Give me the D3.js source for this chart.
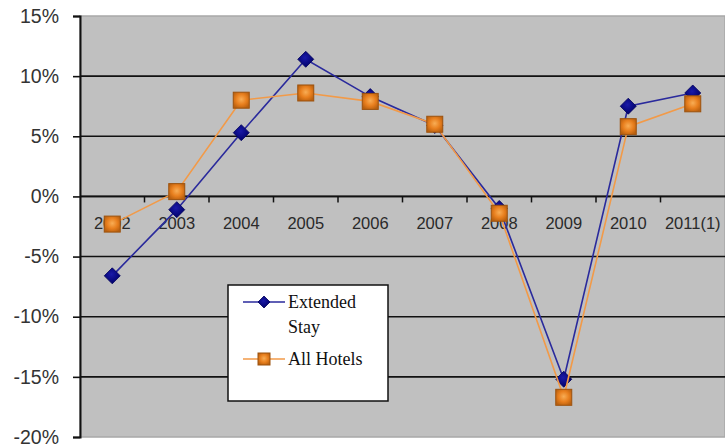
<!DOCTYPE html>
<html>
<head>
<meta charset="utf-8">
<script src="https://cdn.jsdelivr.net/npm/d3@7"></script>
<style>
  html, body { margin: 0; padding: 0; background: #fff; }
  svg { display: block; }
</style>
</head>
<body>
<svg id="chart" width="725" height="448"></svg>
<script>
// Annual RevPAR change, Extended Stay vs. all hotels
const years = ["2002", "2003", "2004", "2005", "2006", "2007", "2008", "2009", "2010", "2011(1)"];
const extendedStay = [-6.6, -1.1, 5.3, 11.4, 8.3, 5.9, -1.0, -15.2, 7.5, 8.6];
const allHotels = [-2.3, 0.4, 8.0, 8.6, 7.9, 6.0, -1.4, -16.7, 5.8, 7.7];
const yTicks = [15, 10, 5, 0, -5, -10, -15, -20];

const svg = d3.select("#chart");
const plot = { left: 80, right: 725, top: 16, bottom: 437 };

const x = d3.scaleBand().domain(years).range([plot.left, plot.right]);
const y = d3.scaleLinear().domain([-20, 15]).range([plot.bottom, plot.top]);

// marker shading
const defs = svg.append("defs");
const sq = defs.append("radialGradient").attr("id", "sqShade")
  .attr("cx", "50%").attr("cy", "45%").attr("r", "60%");
sq.append("stop").attr("offset", "0%").attr("stop-color", "#f8ad55");
sq.append("stop").attr("offset", "55%").attr("stop-color", "#e87f1e");
sq.append("stop").attr("offset", "100%").attr("stop-color", "#b9600f");
const dm = defs.append("radialGradient").attr("id", "dmShade")
  .attr("cx", "45%").attr("cy", "40%").attr("r", "60%");
dm.append("stop").attr("offset", "0%").attr("stop-color", "#1a1aa8");
dm.append("stop").attr("offset", "100%").attr("stop-color", "#00006a");

// plot area
svg.append("rect")
  .attr("x", plot.left).attr("y", plot.top)
  .attr("width", plot.right - plot.left).attr("height", plot.bottom - plot.top)
  .attr("fill", "#c0c0c0")
  .attr("stroke", "#a8a8a8").attr("stroke-width", 1.5);

// horizontal grid lines
svg.append("g")
  .selectAll("line")
  .data(yTicks.filter(v => v < 15 && v > -20))
  .join("line")
  .attr("x1", plot.left).attr("x2", plot.right)
  .attr("y1", d => y(d)).attr("y2", d => y(d))
  .attr("stroke", "#111").attr("stroke-width", 1.6);

// y axis
const yAxis = d3.axisLeft(y)
  .tickValues(yTicks)
  .tickSize(7)
  .tickPadding(14)
  .tickFormat(d => d + "%");
const gy = svg.append("g")
  .attr("transform", `translate(${plot.left},0)`)
  .call(yAxis);
gy.select(".domain").attr("stroke", "#111").attr("stroke-width", 2);
gy.selectAll(".tick line").attr("stroke", "#111").attr("stroke-width", 1.6);
gy.selectAll(".tick text")
  .attr("font-family", "Arial, 'Liberation Sans', sans-serif")
  .attr("font-size", 19.5)
  .attr("fill", "#333");

// x axis along the zero line, ticks at category boundaries
const gx = svg.append("g")
  .attr("transform", `translate(0,${y(0)})`);
gx.append("line")
  .attr("x1", plot.left).attr("x2", plot.right)
  .attr("stroke", "#111").attr("stroke-width", 1.8);
gx.selectAll("line.tk")
  .data(years.slice(1))
  .join("line")
  .attr("class", "tk")
  .attr("x1", d => x(d)).attr("x2", d => x(d))
  .attr("y1", 0).attr("y2", 6)
  .attr("stroke", "#111").attr("stroke-width", 1.5);
gx.selectAll("text")
  .data(years)
  .join("text")
  .attr("x", d => x(d) + x.bandwidth() / 2)
  .attr("y", 33)
  .attr("text-anchor", "middle")
  .attr("font-family", "Arial, 'Liberation Sans', sans-serif")
  .attr("font-size", 16.5)
  .attr("fill", "#2a2a2a")
  .text(d => d);

// series
const cx = d => x(d) + x.bandwidth() / 2;
const line = d3.line()
  .x((d, i) => cx(years[i]))
  .y(d => y(d));

const blue = { line: "#2a2a9c" };
const orange = { line: "#f29a48", edge: "#9c520e" };

function diamond(g, size) {
  return g.append("path")
    .attr("d", `M0,${-size}L${size},0L0,${size}L${-size},0Z`)
    .attr("fill", "url(#dmShade)")
    .attr("stroke", "#00005a").attr("stroke-width", 0.8);
}
function square(g, s) {
  g.append("rect")
    .attr("x", -s).attr("y", -s).attr("width", 2 * s).attr("height", 2 * s)
    .attr("fill", "url(#sqShade)")
    .attr("stroke", orange.edge).attr("stroke-width", 1);
}

// Extended Stay
svg.append("path")
  .datum(extendedStay)
  .attr("d", line)
  .attr("fill", "none")
  .attr("stroke", blue.line).attr("stroke-width", 1.6);
svg.append("g")
  .selectAll("g")
  .data(extendedStay)
  .join("g")
  .attr("transform", (d, i) => `translate(${cx(years[i])},${y(d)})`)
  .each(function () { diamond(d3.select(this), 8); });

// All Hotels
svg.append("path")
  .datum(allHotels)
  .attr("d", line)
  .attr("fill", "none")
  .attr("stroke", orange.line).attr("stroke-width", 1.6);
svg.append("g")
  .selectAll("g")
  .data(allHotels)
  .join("g")
  .attr("transform", (d, i) => `translate(${cx(years[i])},${y(d)})`)
  .each(function () { square(d3.select(this), 8); });

// legend
const lg = svg.append("g");
lg.append("rect")
  .attr("x", 228).attr("y", 285).attr("width", 160).attr("height", 116)
  .attr("fill", "#fff")
  .attr("stroke", "#111").attr("stroke-width", 1.5);

const legendFont = "'Times New Roman', 'Liberation Serif', serif";
lg.append("line")
  .attr("x1", 243).attr("x2", 285).attr("y1", 302).attr("y2", 302)
  .attr("stroke", blue.line).attr("stroke-width", 1.6);
diamond(lg.append("g").attr("transform", "translate(264,302)"), 6);
lg.append("text")
  .attr("x", 288).attr("y", 308)
  .attr("font-family", legendFont).attr("font-size", 18).attr("fill", "#111")
  .text("Extended");
lg.append("text")
  .attr("x", 288).attr("y", 333)
  .attr("font-family", legendFont).attr("font-size", 18).attr("fill", "#111")
  .text("Stay");

lg.append("line")
  .attr("x1", 243).attr("x2", 285).attr("y1", 359).attr("y2", 359)
  .attr("stroke", orange.line).attr("stroke-width", 1.6);
square(lg.append("g").attr("transform", "translate(264,359)"), 6);
lg.append("text")
  .attr("x", 288).attr("y", 365)
  .attr("font-family", legendFont).attr("font-size", 18).attr("fill", "#111")
  .text("All Hotels");
</script>
</body>
</html>
